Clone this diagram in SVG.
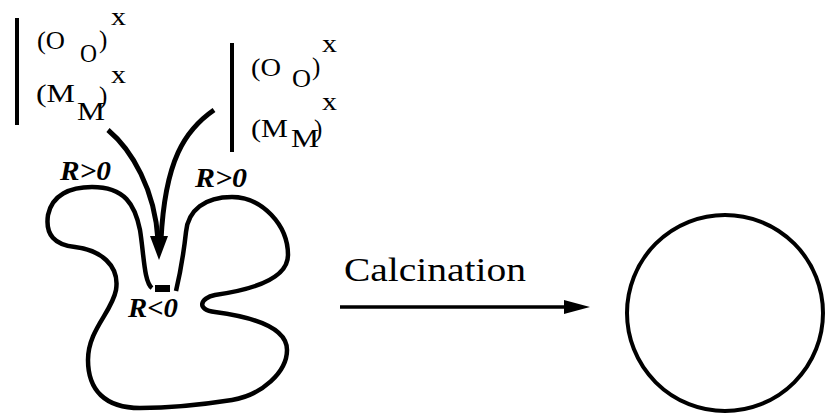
<svg xmlns="http://www.w3.org/2000/svg" width="827" height="414" viewBox="0 0 827 414">
<style>
.t{font-family:'Liberation Serif','Times New Roman','DejaVu Serif',serif;font-size:25px;fill:#000}
.r{font-family:'Liberation Serif','Times New Roman','DejaVu Serif',serif;font-size:27px;font-weight:bold;font-style:italic;fill:#000}
.c{font-family:'Liberation Serif','Times New Roman','DejaVu Serif',serif;font-size:34px;fill:#000}
.ln{fill:none;stroke:#000;stroke-linecap:butt}
</style>
<rect width="827" height="414" fill="#fff"/>
<g id="flux-left">
  <line class="ln" x1="17" y1="18" x2="17" y2="125" stroke-width="4"/>
  <text class="t" x="37" y="49" textLength="28" lengthAdjust="spacingAndGlyphs">(O</text>
  <text class="t" x="80" y="62" textLength="17" lengthAdjust="spacingAndGlyphs">O</text>
  <text class="t" x="99" y="48">)</text>
  <text class="t" x="111" y="25" textLength="15" lengthAdjust="spacingAndGlyphs">x</text>
  <text class="t" x="36" y="102" textLength="39" lengthAdjust="spacingAndGlyphs">(M</text>
  <text class="t" x="77" y="120" textLength="28" lengthAdjust="spacingAndGlyphs">M</text>
  <text class="t" x="99" y="104">)</text>
  <text class="t" x="111" y="83" textLength="15" lengthAdjust="spacingAndGlyphs">x</text>
</g>
<g id="flux-right">
  <line class="ln" x1="232" y1="43" x2="232" y2="152" stroke-width="4"/>
  <text class="t" x="251" y="76" textLength="30" lengthAdjust="spacingAndGlyphs">(O</text>
  <text class="t" x="292" y="87" textLength="19" lengthAdjust="spacingAndGlyphs">O</text>
  <text class="t" x="312" y="75">)</text>
  <text class="t" x="322" y="52" textLength="15" lengthAdjust="spacingAndGlyphs">x</text>
  <text class="t" x="251" y="137" textLength="37" lengthAdjust="spacingAndGlyphs">(M</text>
  <text class="t" x="291" y="147" textLength="28" lengthAdjust="spacingAndGlyphs">M</text>
  <text class="t" x="314" y="137">)</text>
  <text class="t" x="322" y="110" textLength="15" lengthAdjust="spacingAndGlyphs">x</text>
</g>
<g id="particle-irregular">
  <path class="ln" stroke-width="4.5" stroke-linejoin="round" d="M176,291 C181,270 184,250 186,232 C188,210 205,197 232,197 C262,197 288,225 288,255 C288,280 250,290 215,295 C200,298 196,310 215,312 C245,316 287,325 287,350 C287,372 262,395 232,400 C200,405 170,408 140,408 C105,408 88,390 88,360 C88,330 112,312 116,290 C120,265 100,250 75,247 C55,245 45,235 48,215 C52,195 70,187 92,187 C125,187 135,205 140,230 C144,255 144,282 152,288"/>
  <rect x="155" y="285" width="15" height="7" fill="#000"/>
  <text class="r" x="60" y="180" textLength="51" lengthAdjust="spacingAndGlyphs">R&gt;0</text>
  <text class="r" x="195" y="187" textLength="52" lengthAdjust="spacingAndGlyphs">R&gt;0</text>
  <text class="r" x="128" y="317" textLength="50" lengthAdjust="spacingAndGlyphs">R&lt;0</text>
</g>
<g id="particle-sphere">
  <circle class="ln" cx="725" cy="313" r="98" stroke-width="4"/>
</g>
<g id="connectors">
  <path class="ln" stroke-width="5" d="M108,130 C132,150 155,190 158,240"/>
  <path class="ln" stroke-width="5" d="M214,110 C185,130 165,160 161,240"/>
  <polygon points="150,236 168,236 159,260" fill="#000"/>
  <line class="ln" x1="340" y1="307" x2="570" y2="307" stroke-width="3.5"/>
  <polygon points="564,300 590,307 564,314" fill="#000"/>
  <text class="c" x="344" y="281" textLength="182" lengthAdjust="spacingAndGlyphs">Calcination</text>
</g>
</svg>
